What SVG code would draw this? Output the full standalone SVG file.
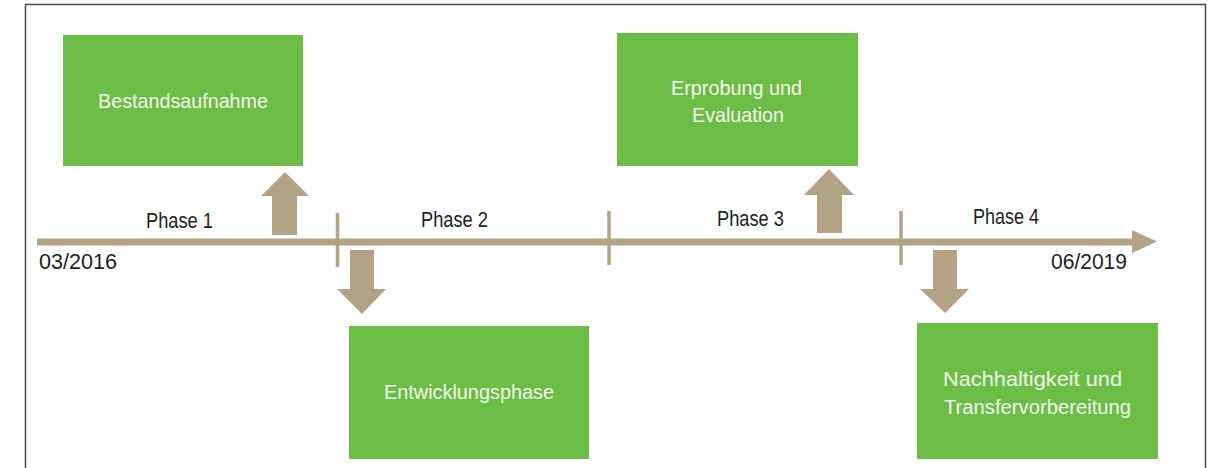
<svg xmlns="http://www.w3.org/2000/svg" width="1207" height="468" viewBox="0 0 1207 468">
  <style>
    .box { fill: #6cbd45; }
    .boxtext { font-family: "Liberation Sans", Arial, sans-serif; font-size: 21px; fill: #f2f8ec; }
    .label { font-family: "Liberation Sans", Arial, sans-serif; font-size: 21.5px; fill: #1e1e1e; }
    .tan { fill: #b3a384; }
    .tick { stroke: #b3a384; stroke-width: 3.5; }
  </style>
  <rect width="1207" height="468" fill="#ffffff"/>
  <!-- outer frame (open at the bottom) -->
  <path d="M25.5,468 V4.5 H1205.5 V468" fill="none" stroke="#4a4a4a" stroke-width="1.5"/>

  <!-- timeline, ticks and block arrows -->
  <g id="connectors">
    <rect class="tan" x="37" y="238.5" width="1097" height="7"/>
    <polygon class="tan" points="1132,230 1157,241.5 1132,253"/>
    <line class="tick" x1="337.5" y1="213" x2="337.5" y2="267"/>
    <line class="tick" x1="609" y1="211" x2="609" y2="265"/>
    <line class="tick" x1="901" y1="211" x2="901" y2="265"/>
    <polygon class="tan" points="272,235 297,235 297,196 309,196 285,172 261,196 272,196"/>
    <polygon class="tan" points="350,250 374,250 374,289 386,289 362,314 337,289 350,289"/>
    <polygon class="tan" points="817,233 842,233 842,195 854,195 829,169 804,195 817,195"/>
    <polygon class="tan" points="933,250 957,250 957,289 969,289 945,313 920,289 933,289"/>
  </g>

  <!-- timeline labels -->
  <g id="labels">
    <text class="label" x="146" y="228" textLength="67" lengthAdjust="spacingAndGlyphs">Phase 1</text>
    <text class="label" x="421" y="227" textLength="67" lengthAdjust="spacingAndGlyphs">Phase 2</text>
    <text class="label" x="717" y="226" textLength="67" lengthAdjust="spacingAndGlyphs">Phase 3</text>
    <text class="label" x="973" y="224" textLength="66" lengthAdjust="spacingAndGlyphs">Phase 4</text>
    <text class="label" x="39" y="269" textLength="78" lengthAdjust="spacingAndGlyphs">03/2016</text>
    <text class="label" x="1051" y="269" textLength="76" lengthAdjust="spacingAndGlyphs">06/2019</text>
  </g>

  <g id="bestandsaufnahme">
    <rect class="box" x="63" y="35" width="240" height="131"/>
    <text class="boxtext" x="98" y="108" textLength="170" lengthAdjust="spacingAndGlyphs">Bestandsaufnahme</text>
  </g>

  <g id="entwicklungsphase">
    <rect class="box" x="349" y="326" width="240" height="133"/>
    <text class="boxtext" x="384" y="399" textLength="170" lengthAdjust="spacingAndGlyphs">Entwicklungsphase</text>
  </g>

  <g id="erprobung">
    <rect class="box" x="617" y="33" width="241" height="133"/>
    <text class="boxtext" x="671" y="95" textLength="131" lengthAdjust="spacingAndGlyphs">Erprobung und</text>
    <text class="boxtext" x="692" y="122" textLength="92" lengthAdjust="spacingAndGlyphs">Evaluation</text>
  </g>

  <g id="nachhaltigkeit">
    <rect class="box" x="917" y="323" width="241" height="136"/>
    <text class="boxtext" x="943" y="386" textLength="179" lengthAdjust="spacingAndGlyphs">Nachhaltigkeit und</text>
    <text class="boxtext" x="944" y="414" textLength="187" lengthAdjust="spacingAndGlyphs">Transfervorbereitung</text>
  </g>
</svg>
